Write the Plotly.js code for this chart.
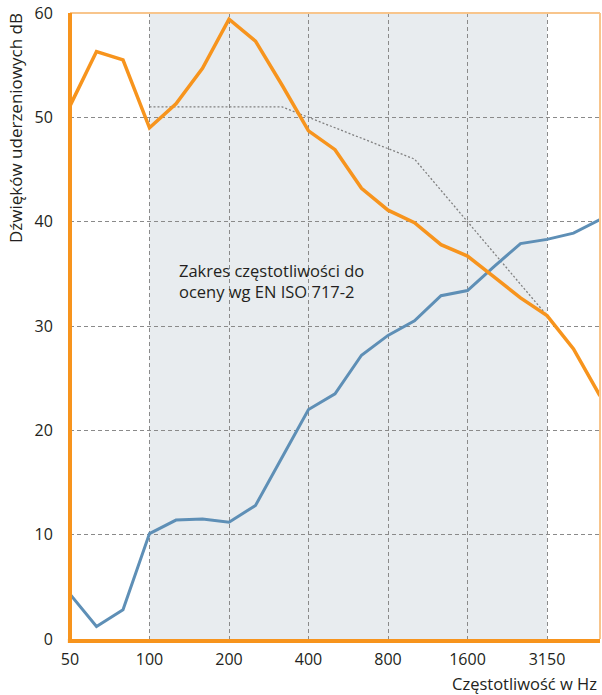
<!DOCTYPE html>
<html>
<head>
<meta charset="utf-8">
<script src="https://cdn.plot.ly/plotly-3.0.1.min.js"></script>
<style>html,body{margin:0;padding:0;background:#fff;}#chart{width:602px;height:695px;}</style>
</head>
<body>
<div id="chart"></div>
<script>
// Third-octave band centre frequencies (Hz)
const freqs = ['50','63','80','100','125','160','200','250','315','400','500','630','800','1000','1250','1600','2000','2500','3150','4000','5000'];
const tickLabelsAll = ['50','100','200','400','800','1600','3150'];

// Orange series (dB)
const orangeValues = [51.1, 56.3, 55.5, 49.0, 51.3, 54.7, 59.4, 57.3, 53.1, 48.7, 46.9, 43.2, 41.1, 39.9, 37.8, 36.7, 34.7, 32.7, 31.0, 27.8, 23.3];
// Blue series (dB)
const blueValues = [4.3, 1.2, 2.8, 10.1, 11.4, 11.5, 11.2, 12.8, 17.4, 22.0, 23.5, 27.2, 29.1, 30.5, 32.9, 33.4, 35.7, 37.9, 38.3, 38.9, 40.2];
// Shifted reference curve (100 - 3150 Hz)
const refFreqs = ['100','125','160','200','250','315','400','500','630','800','1000','1250','1600','2000','2500','3150'];
const refValues = [51, 51, 51, 51, 51, 51, 50, 49, 48, 47, 46, 43, 40, 37, 34, 31];

const annotationText = 'Zakres częstotliwości do<br>oceny wg EN ISO 717-2';
const yTitle = 'Dźwięków uderzeniowych dB';
const xTitle = 'Częstotliwość w Hz';

const FONT = '"Open Sans", "Noto Sans", sans-serif';
const ORANGE = '#f7941d';
const LIGHT_ORANGE = '#f8c58c';
const BLUE = '#5e8fb6';

const traces = [
  {x: refFreqs, y: refValues, type: 'scatter', mode: 'lines',
   line: {color: '#808080', width: 1.3, dash: '2px,2px'}, hoverinfo: 'skip'},
  {x: freqs, y: blueValues, type: 'scatter', mode: 'lines',
   line: {color: BLUE, width: 3}},
  {x: freqs, y: orangeValues, type: 'scatter', mode: 'lines',
   line: {color: ORANGE, width: 3.5}}
];

const layout = {
  width: 602, height: 695,
  margin: {l: 70, r: 2, t: 13, b: 56, pad: 0},
  paper_bgcolor: '#ffffff', plot_bgcolor: '#ffffff',
  showlegend: false,
  font: {family: FONT, size: 16, color: '#231f20'},
  xaxis: {
    type: 'category', categoryorder: 'array', categoryarray: freqs,
    range: [0, 20],
    tickmode: 'array', tickvals: tickLabelsAll, ticktext: tickLabelsAll,
    showgrid: true, gridcolor: '#8a8a8a', gridwidth: 1, griddash: '4px,3px',
    zeroline: false, showline: false,
    ticks: 'outside', ticklen: 6, tickcolor: 'rgba(0,0,0,0)',
    tickfont: {family: FONT, size: 16, color: '#231f20'}
  },
  yaxis: {
    range: [0, 60],
    tickmode: 'array', tickvals: [0, 10, 20, 30, 40, 50, 60],
    showgrid: true, gridcolor: '#8a8a8a', gridwidth: 1, griddash: '4px,3px',
    zeroline: false, showline: false,
    ticks: 'outside', ticklen: 13, tickcolor: 'rgba(0,0,0,0)',
    tickfont: {family: FONT, size: 16, color: '#231f20'}
  },
  shapes: [
    {type: 'rect', xref: 'x', yref: 'paper', x0: 3, x1: 18, y0: 0, y1: 1,
     fillcolor: '#e8ecef', line: {width: 0}, layer: 'below'},
    {type: 'line', xref: 'paper', yref: 'paper', x0: 0, x1: 1, y0: 1, y1: 1,
     line: {color: LIGHT_ORANGE, width: 2}, layer: 'above'},
    {type: 'line', xref: 'paper', yref: 'paper', x0: 1, x1: 1, y0: 0, y1: 1,
     line: {color: LIGHT_ORANGE, width: 2}, layer: 'above'},
    {type: 'line', xref: 'paper', yref: 'paper', x0: 0, x1: 0, y0: -0.003, y1: 1,
     line: {color: ORANGE, width: 4}, layer: 'above'},
    {type: 'line', xref: 'paper', yref: 'paper', x0: -0.004, x1: 1, y0: -0.003, y1: -0.003,
     line: {color: ORANGE, width: 4}, layer: 'above'}
  ],
  annotations: [
    {text: annotationText, xref: 'paper', yref: 'paper',
     x: (177 - 70) / 530, y: (639 - 281) / 626, xanchor: 'left', yanchor: 'middle',
     align: 'left', showarrow: false,
     font: {family: FONT, size: 16.5, color: '#231f20'}},
    {text: yTitle, xref: 'paper', yref: 'paper',
     x: (15 - 70) / 530, y: (639 - 128) / 626, xanchor: 'center', yanchor: 'middle',
     textangle: -90, showarrow: false,
     font: {family: FONT, size: 17, color: '#231f20'}},
    {text: xTitle, xref: 'paper', yref: 'paper',
     x: (599 - 70) / 530, y: (639 - 683) / 626, xanchor: 'right', yanchor: 'middle',
     showarrow: false,
     font: {family: FONT, size: 16.5, color: '#231f20'}}
  ]
};

Plotly.newPlot('chart', traces, layout, {displayModeBar: false, staticPlot: true});
</script>
</body>
</html>
